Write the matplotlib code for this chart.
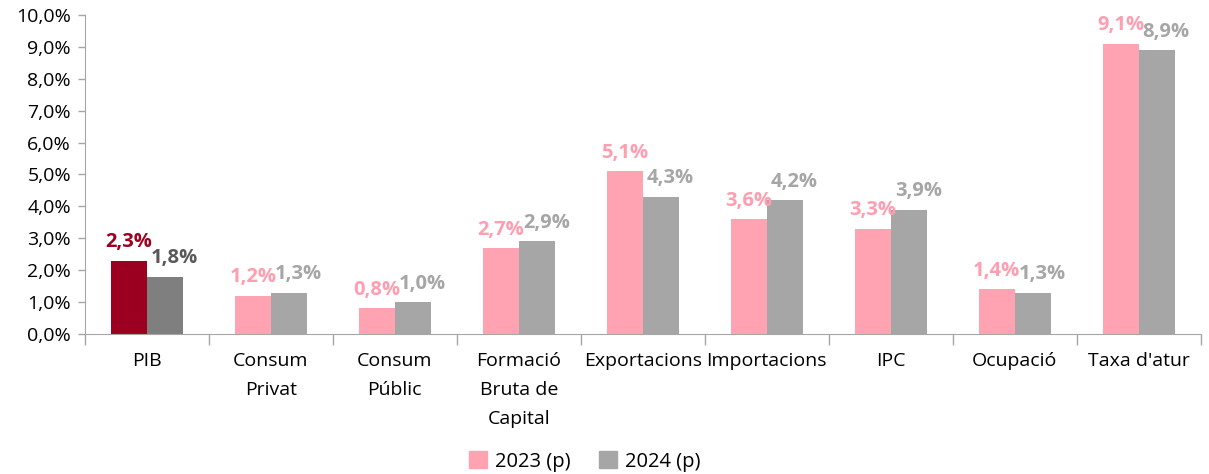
import numpy as np
import matplotlib.pyplot as plt
from matplotlib.ticker import FuncFormatter

plt.rcParams['font.family'] = ['Open Sans', 'DejaVu Sans']

categories = ['PIB', 'Consum\nPrivat', 'Consum\nPúblic', 'Formació\nBruta de\nCapital',
              'Exportacions', 'Importacions', 'IPC', 'Ocupació', "Taxa d'atur"]
vals_2023 = [2.3, 1.2, 0.8, 2.7, 5.1, 3.6, 3.3, 1.4, 9.1]
vals_2024 = [1.8, 1.3, 1.0, 2.9, 4.3, 4.2, 3.9, 1.3, 8.9]
labels_series = ['2023 (p)', '2024 (p)']

pink = '#FFA3B3'
grey = '#A6A6A6'
col_2023 = [pink] * len(categories)
col_2024 = [grey] * len(categories)
col_2023[0] = '#9C0020'
col_2024[0] = '#7F7F7F'
txt_2023 = ['#9C0020'] + ['#FF9EB0'] * 8
txt_2024 = ['#595959'] + ['#A6A6A6'] * 8

fig = plt.figure(figsize=(12.09, 4.74), dpi=100)
ax = fig.add_axes([0.0703, 0.2954, 0.9227, 0.673])

x = np.arange(len(categories))
w = 0.29
ax.bar(x - w / 2, vals_2023, w, color=col_2023, label=labels_series[0])
ax.bar(x + w / 2, vals_2024, w, color=col_2024, label=labels_series[1])

fmt = lambda v: f'{v:.1f}%'.replace('.', ',')
for i in range(len(categories)):
    ax.annotate(fmt(vals_2023[i]), (x[i] - w / 2, vals_2023[i]), xytext=(0, 6),
                textcoords='offset points', ha='center', va='bottom',
                fontsize=14.5, fontweight='bold', color=txt_2023[i])
    ax.annotate(fmt(vals_2024[i]), (x[i] + w / 2, vals_2024[i]), xytext=(7, 6),
                textcoords='offset points', ha='center', va='bottom',
                fontsize=14.5, fontweight='bold', color=txt_2024[i])

ax.set_xlim(-0.5, len(categories) - 0.5)
ax.set_ylim(0, 10)
ax.set_yticks(np.arange(0, 11, 1))
ax.yaxis.set_major_formatter(FuncFormatter(lambda v, p: fmt(v)))
ax.set_xticks(x)
ax.set_xticklabels(categories, fontsize=14, linespacing=1.78)
ax.set_xticks(np.arange(-0.5, len(categories), 1), minor=True)
ax.tick_params(axis='x', which='major', length=0, pad=13)
ax.tick_params(axis='x', which='minor', length=8, color='#A6A6A6', width=1)
ax.tick_params(axis='y', labelsize=14, length=5, color='#A6A6A6', width=1, pad=5)

for s in ['top', 'right']:
    ax.spines[s].set_visible(False)
ax.spines['left'].set_color('#A6A6A6')
ax.spines['bottom'].set_color('#A6A6A6')

leg_handles = [plt.Rectangle((0, 0), 1, 1, color=pink), plt.Rectangle((0, 0), 1, 1, color=grey)]
fig.legend(leg_handles, labels_series, loc='lower center', bbox_to_anchor=(0.484, -0.033),
           ncol=2, frameon=False, fontsize=14.5, handlelength=0.9, handleheight=0.9,
           handletextpad=0.4, columnspacing=1.4)

fig.savefig('out.png', dpi=100)
